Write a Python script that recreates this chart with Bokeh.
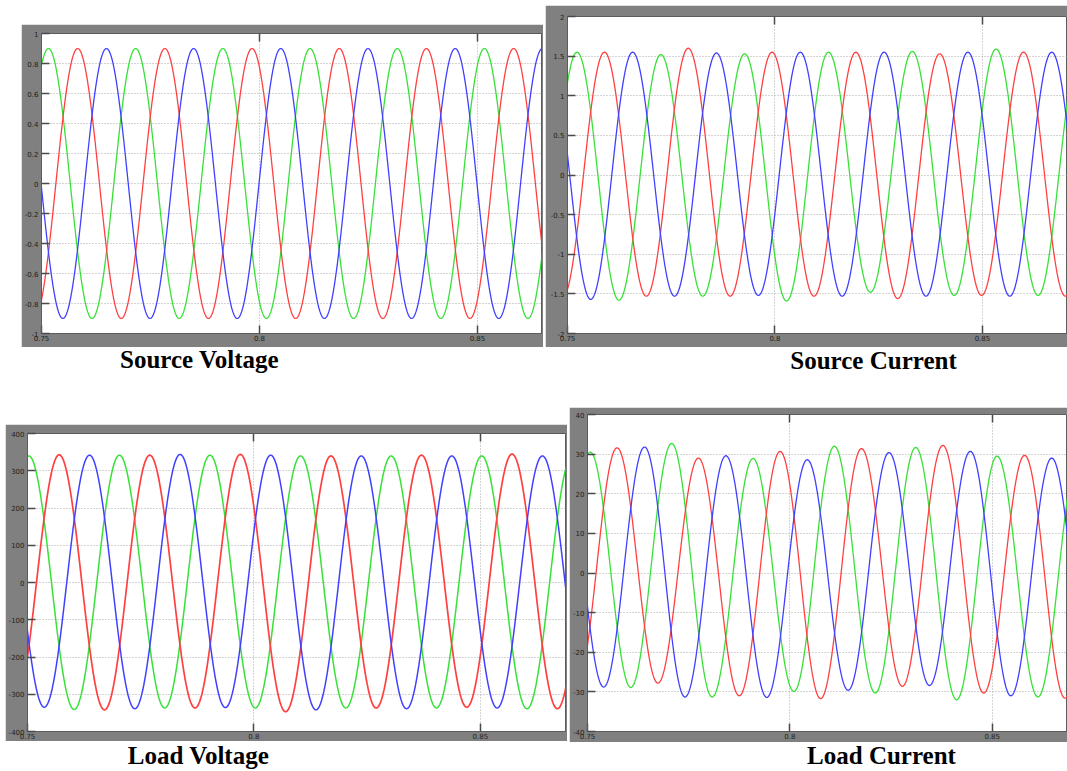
import numpy as np
from bokeh.plotting import figure
from bokeh.layouts import row, column, Spacer
from bokeh.models import Range1d, FixedTicker, PrintfTickFormatter, LinearAxis, Label, CustomJSTickFormatter
from bokeh.embed import file_html
from bokeh.resources import INLINE

# ---------------- data (extrema: time [s], value) ----------------
x_ticks = [0.75, 0.8, 0.85]

# Source Voltage (x 10^?)
sv_green_t = [0.7416, 0.7516, 0.7616, 0.7716, 0.7816, 0.7916, 0.8016, 0.8116, 0.8216, 0.8316, 0.8416, 0.8516, 0.8616, 0.8716]
sv_green_v = [-0.9, 0.9, -0.9, 0.9, -0.9, 0.9, -0.9, 0.9, -0.9, 0.9, -0.9, 0.9, -0.9, 0.9]
sv_red_t = [0.7483, 0.7583, 0.7683, 0.7783, 0.7883, 0.7983, 0.8083, 0.8183, 0.8283, 0.8383, 0.8483, 0.8583, 0.8683, 0.8783]
sv_red_v = [-0.9, 0.9, -0.9, 0.9, -0.9, 0.9, -0.9, 0.9, -0.9, 0.9, -0.9, 0.9, -0.9, 0.9]
sv_blue_t = [0.7449, 0.7549, 0.7649, 0.7749, 0.7849, 0.7949, 0.8049, 0.8149, 0.8249, 0.8349, 0.8449, 0.8549, 0.8649, 0.8749]
sv_blue_v = [0.9, -0.9, 0.9, -0.9, 0.9, -0.9, 0.9, -0.9, 0.9, -0.9, 0.9, -0.9, 0.9, -0.9]
sv_yticks = [-1, -0.8, -0.6, -0.4, -0.2, 0, 0.2, 0.4, 0.6, 0.8, 1]

# Source Current
sc_green_t = [0.7422, 0.7523, 0.7624, 0.7725, 0.7826, 0.7927, 0.8028, 0.8129, 0.8230, 0.8331, 0.8432, 0.8533, 0.8634, 0.8735]
sc_green_v = [-1.55, 1.55, -1.58, 1.52, -1.53, 1.53, -1.59, 1.55, -1.48, 1.56, -1.52, 1.59, -1.52, 1.55]
sc_red_t = [0.7488, 0.7589, 0.7690, 0.7791, 0.7892, 0.7993, 0.8094, 0.8195, 0.8296, 0.8397, 0.8498, 0.8599, 0.8700, 0.8801]
sc_red_v = [-1.55, 1.55, -1.53, 1.60, -1.53, 1.55, -1.53, 1.55, -1.56, 1.53, -1.52, 1.55, -1.53, 1.55]
sc_blue_t = [0.7455, 0.7556, 0.7657, 0.7758, 0.7859, 0.7960, 0.8061, 0.8162, 0.8263, 0.8364, 0.8465, 0.8566, 0.8667, 0.8768]
sc_blue_v = [1.55, -1.57, 1.55, -1.53, 1.54, -1.52, 1.55, -1.53, 1.55, -1.53, 1.55, -1.53, 1.55, -1.53]
sc_yticks = [-2, -1.5, -1, -0.5, 0, 0.5, 1, 1.5, 2]

# Load Voltage
lv_green_t = [0.7403, 0.7503, 0.7603, 0.7703, 0.7803, 0.7903, 0.8003, 0.8103, 0.8203, 0.8303, 0.8403, 0.8503, 0.8603, 0.8703]
lv_green_v = [-340, 340, -341, 342, -337, 342, -337, 340, -337, 340, -337, 340, -339, 340]
lv_red_t = [0.7470, 0.7570, 0.7670, 0.7770, 0.7870, 0.7970, 0.8070, 0.8170, 0.8270, 0.8370, 0.8470, 0.8570, 0.8670, 0.8770]
lv_red_v = [-340, 343, -342, 342, -337, 344, -347, 340, -337, 342, -335, 345, -339, 340]
lv_blue_t = [0.7437, 0.7537, 0.7637, 0.7737, 0.7837, 0.7937, 0.8037, 0.8137, 0.8237, 0.8337, 0.8437, 0.8537, 0.8637, 0.8737]
lv_blue_v = [340, -335, 342, -339, 344, -336, 342, -342, 340, -339, 340, -337, 340, -340]
lv_yticks = [-400, -300, -200, -100, 0, 100, 200, 300, 400]

# Load Current
lc_green_t = [0.7406, 0.7507, 0.7607, 0.7708, 0.7808, 0.7909, 0.8010, 0.8110, 0.8211, 0.8311, 0.8412, 0.8512, 0.8613, 0.8714]
lc_green_v = [-30, 30.5, -28.9, 32.7, -31.3, 28.9, -29.9, 32.0, -30.3, 31.7, -32.0, 29.5, -31.3, 30]
lc_red_t = [0.7472, 0.7573, 0.7674, 0.7774, 0.7875, 0.7976, 0.8076, 0.8177, 0.8278, 0.8378, 0.8479, 0.8580, 0.8680, 0.8781]
lc_red_v = [-29, 31.6, -27.8, 29.0, -31.0, 30.7, -31.7, 31.4, -28.6, 32.2, -30.3, 29.7, -31.6, 30]
lc_blue_t = [0.7440, 0.7540, 0.7641, 0.7741, 0.7842, 0.7943, 0.8043, 0.8144, 0.8245, 0.8345, 0.8446, 0.8546, 0.8647, 0.8747]
lc_blue_v = [30, -28.8, 31.8, -31.3, 29.6, -31.4, 28.6, -29.6, 30.4, -28.4, 30.7, -31.0, 29.0, -30]
lc_yticks = [-40, -30, -20, -10, 0, 10, 20, 30, 40]

captions = ["Source Voltage", "Source Current", "Load Voltage", "Load Current"]

RED, GREEN, BLUE = "#ff4040", "#38e038", "#4040ff"
FRAME_GREY = "#808080"


def wave(ts, vs, n=40):
    """Half-cosine arcs joining the read extrema."""
    tt, yy = [], []
    for i in range(len(ts) - 1):
        t0, t1, v0, v1 = ts[i], ts[i + 1], vs[i], vs[i + 1]
        s = np.linspace(0, 1, n, endpoint=False)
        tt.append(t0 + s * (t1 - t0))
        yy.append((v0 + v1) / 2 + (v0 - v1) / 2 * np.cos(np.pi * s))
    tt.append([ts[-1]])
    yy.append([vs[-1]])
    return np.concatenate(tt), np.concatenate(yy)


def panel(w, h, bl, br, bt, bb, xend, yticks, series, lws=(1.3, 1.3, 1.3)):
    p = figure(width=w, height=h, x_range=Range1d(0.75, xend), y_range=Range1d(yticks[0], yticks[-1]),
               toolbar_location=None, output_backend="svg",
               min_border_left=bl, min_border_right=br, min_border_top=bt, min_border_bottom=bb,
               border_fill_color=FRAME_GREY, background_fill_color="white",
               outline_line_color="#5c5c5c", outline_line_width=1)
    for ax, tk in ((p.xaxis[0], x_ticks), (p.yaxis[0], yticks)):
        ax.ticker = FixedTicker(ticks=tk)
        ax.formatter = PrintfTickFormatter(format="%g")
        ax.major_tick_in = 8
        ax.major_tick_out = 0
        ax.minor_tick_line_color = None
        ax.major_tick_line_color = "#4a4a4a"
        ax.major_tick_line_width = 1.5
        ax.axis_line_color = "#5c5c5c"
        ax.major_label_text_font = "DejaVu Sans"
        ax.major_label_text_font_size = "7px"
        ax.major_label_text_color = "#1e1e1e"
    p.xaxis.major_label_standoff = 1
    p.yaxis.major_label_standoff = 3
    top = LinearAxis(ticker=FixedTicker(ticks=x_ticks[1:]),
                     formatter=CustomJSTickFormatter(code="return ''"),
                     major_tick_in=8, major_tick_out=0, minor_tick_line_color=None,
                     major_tick_line_color="#4a4a4a", major_tick_line_width=1.5,
                     axis_line_color=None, major_label_standoff=0,
                     major_label_text_font_size="1px")
    p.add_layout(top, "above")
    p.xgrid.ticker = FixedTicker(ticks=x_ticks[1:])
    for g in (p.xgrid[0], p.ygrid[0]):
        g.grid_line_color = "#a8a8a8"
        g.grid_line_dash = "1 2"
        g.grid_line_width = 1
    for ((ts, vs), c), lw in zip(series, lws):
        t, y = wave(ts, vs)
        p.line(t, y, line_color=c, line_width=lw)
    return p


# page origin is (0, 0); panels placed to match the reference frames
p1 = panel(522, 323, 20, 2, 9, 14, 0.8647, sv_yticks,
           [((sv_green_t, sv_green_v), GREEN), ((sv_red_t, sv_red_v), RED), ((sv_blue_t, sv_blue_v), BLUE)])
p1.add_layout(Label(x=0.75, y=1.0, x_offset=2, y_offset=1, text="x 10", text_font="DejaVu Sans",
                    text_font_size="7px", text_color="#1e1e1e", text_baseline="bottom"))
p2 = panel(522, 342, 22, 0, 11, 14, 0.8705, sc_yticks,
           [((sc_green_t, sc_green_v), GREEN), ((sc_red_t, sc_red_v), RED), ((sc_blue_t, sc_blue_v), BLUE)])
p3 = panel(562, 317, 22, 2, 9, 8, 0.8688, lv_yticks,
           [((lv_green_t, lv_green_v), GREEN), ((lv_red_t, lv_red_v), RED), ((lv_blue_t, lv_blue_v), BLUE)],
           lws=(1.5, 1.7, 1.5))
p4 = panel(498, 335, 18, 0, 7, 11, 0.8686, lc_yticks,
           [((lc_green_t, lc_green_v), GREEN), ((lc_red_t, lc_red_v), RED), ((lc_blue_t, lc_blue_v), BLUE)])


def strip(h, items):
    s = figure(width=1067, height=h, x_range=Range1d(0, 1067), y_range=Range1d(0, h),
               toolbar_location=None, output_backend="svg", title=None,
               x_axis_location=None, y_axis_location=None,
               min_border=0, min_border_left=0, min_border_right=0, min_border_top=0, min_border_bottom=0,
               outline_line_color=None, background_fill_color="white", border_fill_color="white")
    s.grid.visible = False
    for txt, x, y in items:
        s.add_layout(Label(x=x, y=y, text=txt, text_align="center", text_baseline="alphabetic",
                           text_font="Liberation Serif", text_font_style="bold",
                           text_font_size="25px", text_color="black"))
    return s


cap1 = strip(60, [(captions[0], 199, 48), (captions[1], 873, 47)])
cap2 = strip(29, [(captions[2], 198, 16), (captions[3], 881, 16)])

top_row = row(Spacer(width=21, height=347), column(Spacer(width=522, height=24), p1),
              Spacer(width=2, height=347), column(Spacer(width=522, height=5), p2))
bottom_row = row(Spacer(width=5, height=335), column(Spacer(width=562, height=17), p3),
                 Spacer(width=2, height=335), p4)
layout = column(top_row, cap1, bottom_row, cap2)

open("out.html", "w").write(file_html(layout, INLINE))
